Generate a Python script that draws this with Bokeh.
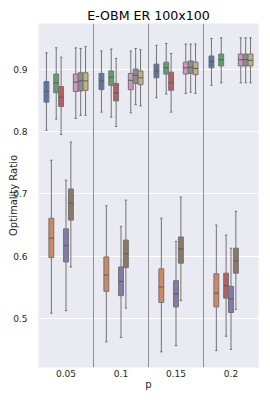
from bokeh.plotting import figure
from bokeh.models import ColumnDataSource, FixedTicker, Span, Range1d
from bokeh.embed import file_html
from bokeh.resources import INLINE

# ---- data ----
categories = ["0.05", "0.1", "0.15", "0.2"]
hue_names = ["s1", "s2", "s3", "s4", "s5", "s6", "s7", "s8", "s9"]
hue_colors = ["#5875A4", "#CC8963", "#5F9E6E", "#B55D60", "#857AAB",
              "#8D7866", "#D095BF", "#8C8C8C", "#C1B37F"]

# five-number summaries [whisker low, q1, median, q3, whisker high] per category
s1 = [[0.802, 0.847, 0.864, 0.880, 0.926], [0.831, 0.867, 0.881, 0.893, 0.929],
      [0.854, 0.886, 0.897, 0.908, 0.938], [0.874, 0.902, 0.912, 0.921, 0.949]]
s2 = [[0.509, 0.598, 0.629, 0.661, 0.754], [0.463, 0.544, 0.570, 0.599, 0.681],
      [0.447, 0.526, 0.551, 0.580, 0.661], [0.449, 0.519, 0.541, 0.572, 0.650]]
s3 = [[0.820, 0.862, 0.878, 0.892, 0.934], [0.823, 0.874, 0.887, 0.897, 0.932],
      [0.860, 0.892, 0.902, 0.911, 0.941], [0.878, 0.905, 0.915, 0.924, 0.950]]
s4 = [[0.795, 0.840, 0.855, 0.872, 0.919], [0.808, 0.849, 0.862, 0.877, 0.917],
      [0.831, 0.866, 0.878, 0.895, 0.925], [0.472, 0.533, 0.553, 0.573, 0.634]]
s5 = [[0.513, 0.591, 0.617, 0.644, 0.722], [0.470, 0.537, 0.560, 0.583, 0.648],
      [0.457, 0.519, 0.540, 0.561, 0.624], [0.451, 0.510, 0.532, 0.552, 0.613]]
s6 = [[0.583, 0.658, 0.685, 0.708, 0.783], [0.517, 0.582, 0.604, 0.626, 0.690],
      [0.529, 0.589, 0.612, 0.631, 0.695], [0.515, 0.573, 0.593, 0.613, 0.672]]
s7 = [[0.821, 0.864, 0.879, 0.892, 0.934], [0.830, 0.867, 0.882, 0.893, 0.929],
      [0.861, 0.892, 0.902, 0.911, 0.940], [0.878, 0.905, 0.915, 0.924, 0.950]]
s8 = [[0.826, 0.865, 0.881, 0.894, 0.933], [0.843, 0.877, 0.890, 0.900, 0.933],
      [0.863, 0.893, 0.903, 0.913, 0.940], [0.878, 0.905, 0.915, 0.924, 0.950]]
s9 = [[0.826, 0.866, 0.881, 0.894, 0.936], [0.841, 0.875, 0.886, 0.897, 0.931],
      [0.861, 0.891, 0.901, 0.911, 0.940], [0.878, 0.905, 0.914, 0.924, 0.950]]
series = [s1, s2, s3, s4, s5, s6, s7, s8, s9]
y_ticks = [0.5, 0.6, 0.7, 0.8, 0.9]

# ---- build source ----
n_h = len(hue_names)
group_w = 0.8
bw = group_w / n_h
cols = {k: [] for k in ["x", "lo", "q1", "med", "q3", "hi", "color",
                        "xl", "xr", "cl", "cr"]}
for i, (ser, col) in enumerate(zip(series, hue_colors)):
    off = (i - (n_h - 1) / 2) * bw
    for j, st in enumerate(ser):
        if st is None:
            continue
        x = j + off
        cols["x"].append(x)
        cols["lo"].append(st[0]); cols["q1"].append(st[1]); cols["med"].append(st[2])
        cols["q3"].append(st[3]); cols["hi"].append(st[4])
        cols["color"].append(col)
        cols["xl"].append(x - bw / 2); cols["xr"].append(x + bw / 2)
        cols["cl"].append(x - bw / 4); cols["cr"].append(x + bw / 4)
src = ColumnDataSource(cols)

p = figure(width=262, height=392,
           x_range=Range1d(-0.5, len(categories) - 0.5), y_range=Range1d(0.4219, 0.973),
           output_backend="svg", toolbar_location=None, title="E-OBM ER 100x100",
           min_border_left=38, min_border_right=4, min_border_top=23, min_border_bottom=24,
           background_fill_color="#EAEAF2", border_fill_color="white", outline_line_color=None)

p.title.align = "center"
p.title.text_font = "DejaVu Sans"
p.title.text_font_size = "12.6px"
p.title.text_font_style = "normal"
p.title.text_color = "#000000"
p.title.standoff = 1

for ax in (p.xaxis, p.yaxis):
    ax.axis_line_color = None
    ax.major_tick_line_color = None
    ax.minor_tick_line_color = None
    ax.major_tick_out = 0
    ax.major_tick_in = 0
    ax.major_label_text_font = "DejaVu Sans"
    ax.major_label_text_font_size = "9px"
    ax.major_label_text_color = "#262626"
    ax.axis_label_text_font = "DejaVu Sans"
    ax.axis_label_text_font_size = "10px"
    ax.axis_label_text_font_style = "normal"
    ax.axis_label_text_color = "#262626"

p.xaxis.ticker = FixedTicker(ticks=list(range(len(categories))))
p.xaxis.major_label_overrides = {i: c for i, c in enumerate(categories)}
p.xaxis.axis_label = "p"
p.xaxis.major_label_standoff = 2
p.xaxis.axis_label_standoff = -1

p.yaxis.ticker = FixedTicker(ticks=y_ticks)
p.yaxis.axis_label = "Optimality Ratio"
p.yaxis.major_label_standoff = 11
p.yaxis.axis_label_standoff = -9

p.xgrid.visible = False
p.ygrid.grid_line_color = "white"
p.ygrid.grid_line_width = 1

for k in range(1, len(categories)):
    p.add_layout(Span(location=k - 0.5, dimension="height", line_color="#8f8f8f", line_width=1))

edge = "#737373"
p.segment(x0="x", y0="q3", x1="x", y1="hi", line_color=edge, line_width=1, source=src)
p.segment(x0="x", y0="q1", x1="x", y1="lo", line_color=edge, line_width=1, source=src)
p.segment(x0="cl", y0="hi", x1="cr", y1="hi", line_color=edge, line_width=1, source=src)
p.segment(x0="cl", y0="lo", x1="cr", y1="lo", line_color=edge, line_width=1, source=src)
p.vbar(x="x", width=bw, bottom="q1", top="q3", fill_color="color", line_color=edge,
       line_width=1, source=src)
p.segment(x0="xl", y0="med", x1="xr", y1="med", line_color="#5a5a5a", line_width=1, source=src)

open("out.html", "w").write(file_html(p, INLINE))
